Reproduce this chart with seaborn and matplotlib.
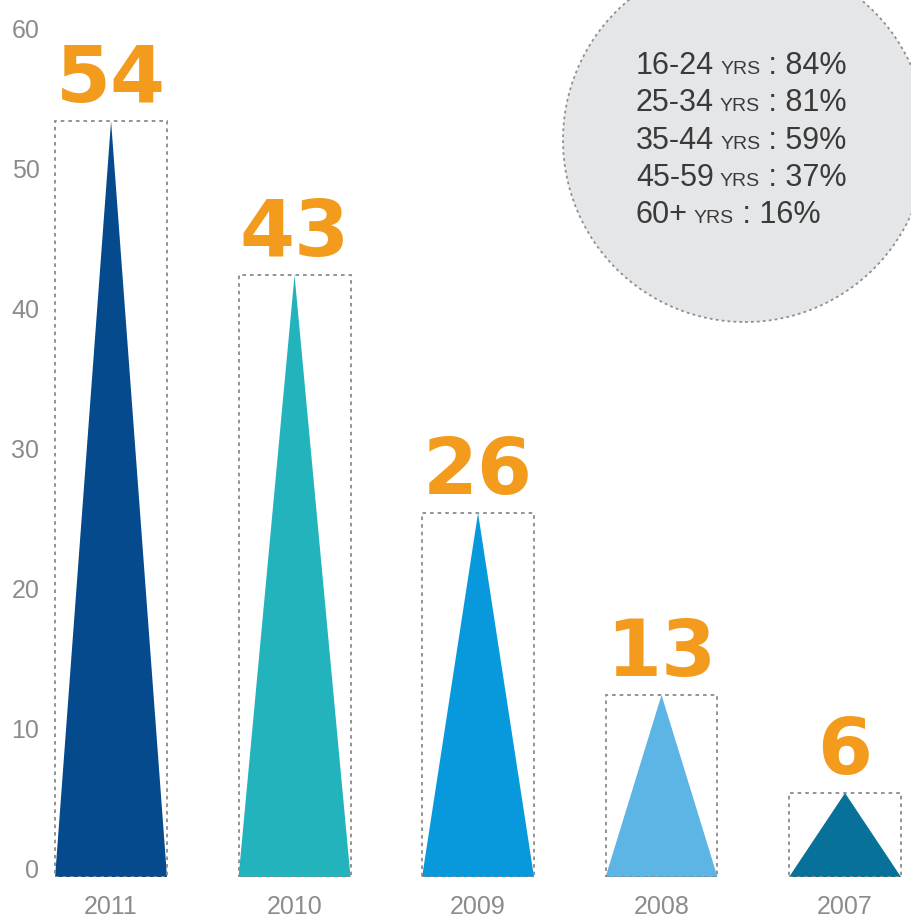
import matplotlib
matplotlib.use("Agg")
import matplotlib.pyplot as plt
import seaborn as sns
import pandas as pd
from matplotlib.patches import Ellipse, Polygon
from matplotlib.transforms import ScaledTranslation

# ---- data -------------------------------------------------------------
years = ["2011", "2010", "2009", "2008", "2007"]
values = [54, 43, 26, 13, 6]
bar_colors = ["#044a8c", "#22b3bd", "#0899dd", "#5db5e5", "#08719a"]
y_ticks = [0, 10, 20, 30, 40, 50, 60]
age_groups = ["16-24", "25-34", "35-44", "45-59", "60+"]
age_shares = [84, 81, 59, 37, 16]

ORANGE = "#f29b1d"
GREY_TXT = "#8c8c8c"
DARK_TXT = "#3a3a3a"

W, H, DPI = 912, 923, 100
sns.set_style("white")
plt.rcParams["font.family"] = ["Liberation Sans", "DejaVu Sans"]

fig = plt.figure(figsize=(W / DPI, H / DPI), dpi=DPI)
ax = fig.add_axes([45 / W, (H - 877) / H, (W - 45) / W, 877 / H])

df = pd.DataFrame({"year": years, "value": values})
sns.barplot(data=df, x="year", y="value", order=years, width=0.61,
            color="white", ax=ax, zorder=3)

ax.set_xlim(-0.36, 4.365)
ax.set_ylim(0, 877 / 14.0)

# dotted frames + triangles built from each bar's geometry
for p, c, v in zip(ax.patches, bar_colors, values):
    x0, w, h = p.get_x(), p.get_width(), p.get_height()
    p.set_facecolor("none")
    p.set_edgecolor("#8a8a8a")
    p.set_linestyle((0, (2.0, 2.2)))
    p.set_linewidth(1.3)
    tri = Polygon([(x0, 0), (x0 + w, 0), (x0 + w / 2, h)], closed=True,
                  facecolor=c, edgecolor="none", zorder=2)
    ax.add_patch(tri)
    ax.annotate(f"{v}", (x0 + w / 2, h), xytext=(0, 14),
                textcoords="offset points", ha="center", va="baseline",
                fontsize=57, fontweight="bold", color=ORANGE,
                family="DejaVu Sans", zorder=4)

# grey bubble with the age breakdown
bubble = Ellipse((3.455, 52.64), 1.984, 26.0, facecolor="#e5e6e8",
                 edgecolor="#8f8f8f", linestyle=(0, (1.5, 1.8)),
                 linewidth=1.3, zorder=1)
ax.add_patch(bubble)

# axes styling
ax.set_xlabel("")
ax.set_ylabel("")
ax.set_yticks(y_ticks)
ax.set_yticklabels([str(t) for t in y_ticks])
ax.tick_params(axis="y", length=0, pad=4, labelsize=18, labelcolor=GREY_TXT)
ax.tick_params(axis="x", length=0, pad=13, labelsize=18, labelcolor=GREY_TXT)
shift = ScaledTranslation(0, 0.08, fig.dpi_scale_trans)
for lbl in ax.get_yticklabels():
    lbl.set_transform(lbl.get_transform() + shift)
for s in ax.spines.values():
    s.set_visible(False)
ax.grid(False)

# bubble text: "<group> YRS : <share>%" with small-caps style unit
renderer = fig.canvas.get_renderer()
baselines = [74, 111, 149, 186, 223]
for grp, share, yb in zip(age_groups, age_shares, baselines):
    yf = (H - yb) / H
    t1 = fig.text(636 / W, yf, grp, fontsize=22, color=DARK_TXT,
                  va="baseline", ha="left")
    x1 = t1.get_window_extent(renderer).x1
    t2 = fig.text((x1 + 6) / W, yf, "YRS", fontsize=14, color=DARK_TXT,
                  va="baseline", ha="left")
    x2 = t2.get_window_extent(renderer).x1
    fig.text(x2 / W, yf, f" : {share}%", fontsize=22, color=DARK_TXT,
             va="baseline", ha="left")

fig.savefig("out.png", dpi=DPI)
